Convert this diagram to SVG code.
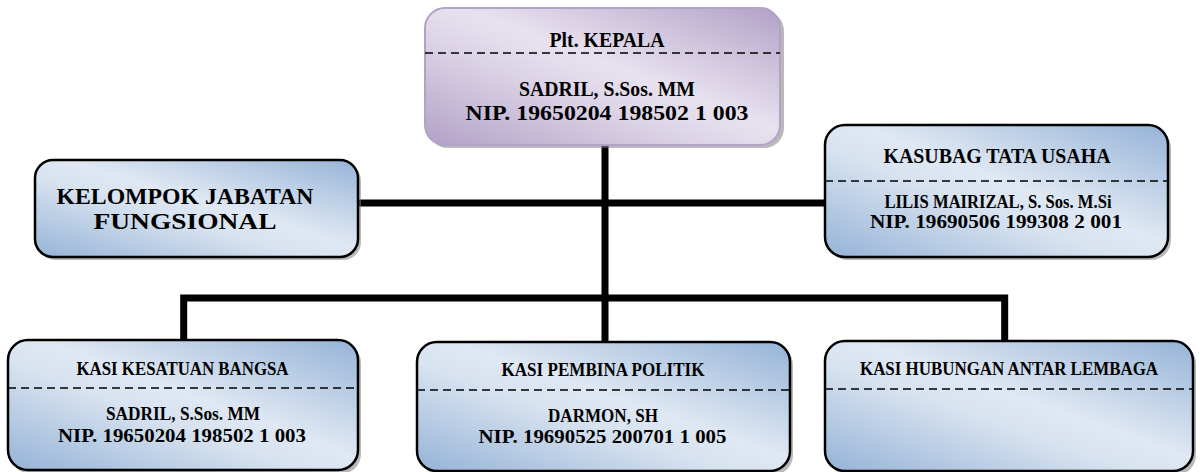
<svg xmlns="http://www.w3.org/2000/svg" width="1200" height="472" viewBox="0 0 1200 472">
<defs>
<linearGradient id="gBlue" x1="1" y1="0" x2="0" y2="1">
<stop offset="0" stop-color="#95b3d7"/>
<stop offset="0.45" stop-color="#dfe8f3"/>
<stop offset="0.58" stop-color="#d8e3f0"/>
<stop offset="1" stop-color="#95b3d7"/>
</linearGradient>
<linearGradient id="gPurple" x1="1" y1="0" x2="0" y2="1">
<stop offset="0" stop-color="#b2a1c7"/>
<stop offset="0.45" stop-color="#e8e2ef"/>
<stop offset="0.6" stop-color="#ddd5e7"/>
<stop offset="1" stop-color="#b2a1c7"/>
</linearGradient>
</defs>
<style>
.box{fill:url(#gBlue);stroke:#000;stroke-width:2.5}
.boxp{fill:url(#gPurple);stroke:#b3a2c7;stroke-width:2}
.sh{fill:#7f7f7f;opacity:0.55}
.dash{stroke:#000;stroke-width:1.6;stroke-dasharray:8 5;fill:none}
.t{font-family:"Liberation Serif","Times New Roman",serif;font-weight:bold;fill:#000;text-anchor:middle}
.conn{stroke:#000;stroke-width:7;fill:none;stroke-linecap:butt;stroke-linejoin:miter}
</style>
<g id="connectors">
<path class="conn" d="M605 144 V342"/>
<path class="conn" d="M358 203 H826"/>
<path class="conn" d="M183.7 341 V298 H1004.7 V341"/>
</g>
<g id="kepala">
<rect class="sh" x="428" y="11" width="356" height="137" rx="20"/>
<rect class="boxp" x="425" y="8" width="355" height="137" rx="20"/>
<line class="dash" x1="425" y1="53" x2="780" y2="53"/>
<text class="t" x="607" y="47" font-size="21" textLength="115" lengthAdjust="spacingAndGlyphs">Plt. KEPALA</text>
<text class="t" x="607" y="96" font-size="21" textLength="176" lengthAdjust="spacingAndGlyphs">SADRIL, S.Sos. MM</text>
<text class="t" x="607" y="120" font-size="21" textLength="283" lengthAdjust="spacingAndGlyphs">NIP. 19650204 198502 1 003</text>
</g>
<g id="fungsional">
<rect class="sh" x="38" y="163" width="323" height="97" rx="18"/>
<rect class="box" x="35" y="160" width="323" height="97" rx="18"/>
<text class="t" x="185" y="204" font-size="23" textLength="257" lengthAdjust="spacingAndGlyphs">KELOMPOK JABATAN</text>
<text class="t" x="185" y="229" font-size="23" textLength="183" lengthAdjust="spacingAndGlyphs">FUNGSIONAL</text>
</g>
<g id="kasubag">
<rect class="sh" x="828" y="128" width="343" height="132" rx="20"/>
<rect class="box" x="825" y="125" width="343" height="132" rx="20"/>
<line class="dash" x1="825" y1="181" x2="1168" y2="181"/>
<text class="t" x="997" y="163" font-size="21" textLength="227" lengthAdjust="spacingAndGlyphs">KASUBAG TATA USAHA</text>
<text class="t" x="998" y="208" font-size="18" textLength="227" lengthAdjust="spacingAndGlyphs">LILIS MAIRIZAL, S. Sos. M.Si</text>
<text class="t" x="996" y="228" font-size="18" textLength="252" lengthAdjust="spacingAndGlyphs">NIP. 19690506 199308 2 001</text>
</g>
<g id="kesatuan">
<rect class="sh" x="11" y="343" width="350" height="131" rx="20"/>
<rect class="box" x="8" y="340" width="350" height="130" rx="20"/>
<line class="dash" x1="8" y1="388" x2="358" y2="388"/>
<text class="t" x="182.5" y="375" font-size="18" textLength="212" lengthAdjust="spacingAndGlyphs">KASI KESATUAN BANGSA</text>
<text class="t" x="183" y="420" font-size="18.5" textLength="154" lengthAdjust="spacingAndGlyphs">SADRIL, S.Sos. MM</text>
<text class="t" x="182" y="442" font-size="18.5" textLength="248" lengthAdjust="spacingAndGlyphs">NIP. 19650204 198502 1 003</text>
</g>
<g id="politik">
<rect class="sh" x="420" y="345" width="373" height="130" rx="20"/>
<rect class="box" x="417" y="342" width="373" height="129" rx="20"/>
<line class="dash" x1="417" y1="390" x2="790" y2="390"/>
<text class="t" x="603" y="376" font-size="18" textLength="203" lengthAdjust="spacingAndGlyphs">KASI PEMBINA POLITIK</text>
<text class="t" x="603" y="422" font-size="18.5" textLength="110" lengthAdjust="spacingAndGlyphs">DARMON, SH</text>
<text class="t" x="602.5" y="443" font-size="18.5" textLength="248" lengthAdjust="spacingAndGlyphs">NIP. 19690525 200701 1 005</text>
</g>
<g id="lembaga">
<rect class="sh" x="828" y="344" width="368" height="131" rx="20"/>
<rect class="box" x="825" y="341" width="368" height="130" rx="20"/>
<line class="dash" x1="825" y1="389" x2="1193" y2="389"/>
<text class="t" x="1009" y="375" font-size="18" textLength="298" lengthAdjust="spacingAndGlyphs">KASI HUBUNGAN ANTAR LEMBAGA</text>
</g>
</svg>
